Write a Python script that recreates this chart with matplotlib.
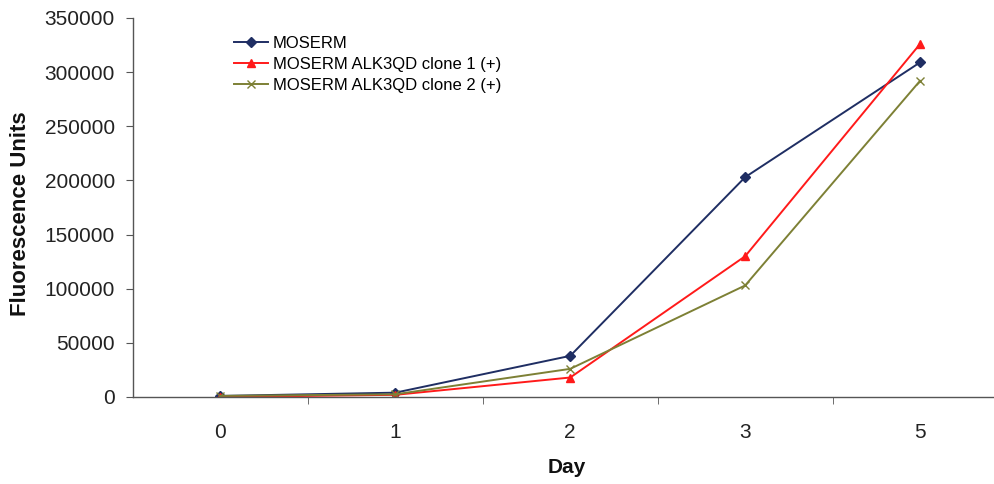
import matplotlib.pyplot as plt

days = ["0", "1", "2", "3", "5"]
moserm = [1000, 4000, 38000, 203000, 309000]
clone1 = [0, 2000, 18000, 130000, 326000]
clone2 = [1000, 2500, 26000, 103000, 292000]

plt.rcParams['font.family'] = ['Liberation Sans', 'DejaVu Sans']

fig = plt.figure(figsize=(9.95, 4.84), dpi=100)
ax = fig.add_axes([133 / 995, 87 / 484, 862 / 995, 379 / 484])

x = range(len(days))
ax.plot(x, moserm, color='#1f2e63', marker='D', markersize=5, lw=1.4, label='MOSERM')
ax.plot(x, clone1, color='#ff1a1a', marker='^', markersize=6, lw=1.4,
        label='MOSERM ALK3QD clone 1 (+)')
ax.plot(x, clone2, color='#7d8035', marker='x', markersize=6, lw=1.4,
        label='MOSERM ALK3QD clone 2 (+)')

ax.set_xlim(-0.5, (995 - 220) / 175)
ax.set_ylim(0, 350000)
ax.set_xticks(list(x))
ax.set_xticklabels(days)
ax.set_xticks([0.5, 1.5, 2.5, 3.5], minor=True)
ax.tick_params(axis='x', which='major', length=0, pad=19, labelsize=15, colors='#222222')
ax.tick_params(axis='x', which='minor', length=5, direction='out', color='#555555')
ax.set_yticks(range(0, 350001, 50000))
ax.tick_params(axis='y', length=5, direction='out', pad=8, labelsize=15, color='#555555',
               labelcolor='#222222')

for side in ['top', 'right']:
    ax.spines[side].set_visible(False)
for side in ['left', 'bottom']:
    ax.spines[side].set_color('#555555')
    ax.spines[side].set_linewidth(1.0)

ax.set_xlabel('Day', fontweight='bold', fontsize=15, color='#111111')
ax.xaxis.set_label_coords(0.503, -0.187)
ax.xaxis.label.set_va('center')
ax.set_ylabel('Fluorescence Units', fontweight='bold', fontsize=16, color='#111111')
ax.yaxis.set_label_coords(-0.13, 0.484)
ax.yaxis.label.set_va('center')

ax.legend(loc='upper left', bbox_to_anchor=(0.1, 0.992), frameon=False, fontsize=12,
          handlelength=2.0, handletextpad=0.3, labelspacing=0.35)

fig.savefig('out.png', dpi=100)
